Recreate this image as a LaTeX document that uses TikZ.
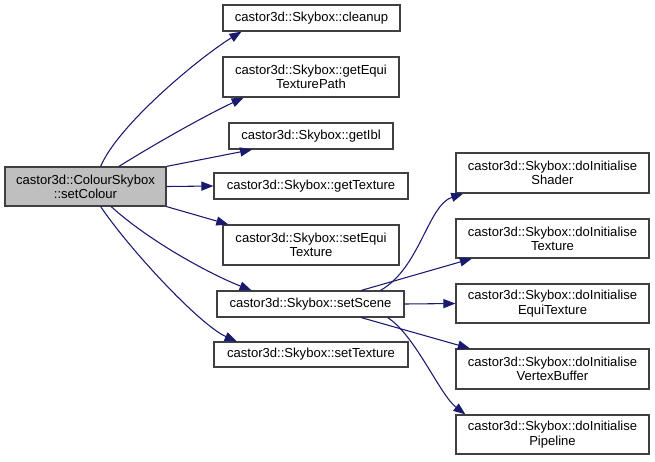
\documentclass[tikz,border=0pt]{standalone}
\usepackage{fontspec}
\setmainfont{Liberation Sans}
\usetikzlibrary{arrows.meta}
\definecolor{edgeblue}{HTML}{191970}
\definecolor{rootgray}{HTML}{BFBFBF}

\begin{document}
\begin{tikzpicture}[x=0.75pt,y=-0.75pt,
  fn/.style={draw=black!75,line width=0.9pt,fill=white,align=center,inner sep=0pt,font=\fontsize{9.8}{10.7}\selectfont},
  call/.style={draw=edgeblue,line width=0.8pt,-{Triangle[length=9pt,width=6.8pt]}}]
\useasboundingbox (0,0) rectangle (655,461);
% caller
\node[fn,fill=rootgray,minimum width=120.75pt,minimum height=29.25pt] (root) at (85.5,186.5) {castor3d::ColourSkybox\\::setColour};
% direct callees
\node[fn,minimum width=132.75pt,minimum height=19.5pt] (cleanup) at (311.5,18) {castor3d::Skybox::cleanup};
\node[fn,minimum width=132pt,minimum height=30pt] (equipath) at (311,77) {castor3d::Skybox::getEqui\\TexturePath};
\node[fn,minimum width=123pt,minimum height=19.5pt] (getibl) at (311,136) {castor3d::Skybox::getIbl};
\node[fn,minimum width=145.5pt,minimum height=19.5pt] (gettex) at (311,186) {castor3d::Skybox::getTexture};
\node[fn,minimum width=132pt,minimum height=30pt] (setequi) at (311,245) {castor3d::Skybox::setEqui\\Texture};
\node[fn,minimum width=140.25pt,minimum height=19.5pt] (setscene) at (310.5,304) {castor3d::Skybox::setScene};
\node[fn,minimum width=145.5pt,minimum height=18.75pt] (settex) at (311,354.5) {castor3d::Skybox::setTexture};
% called from setScene
\node[fn,minimum width=144.75pt,minimum height=30pt] (shader) at (552.5,173) {castor3d::Skybox::doInitialise\\Shader};
\node[fn,minimum width=144.75pt,minimum height=29.25pt] (texture) at (552.5,238.5) {castor3d::Skybox::doInitialise\\Texture};
\node[fn,minimum width=144.75pt,minimum height=29.25pt] (equitex) at (552.5,303.5) {castor3d::Skybox::doInitialise\\EquiTexture};
\node[fn,minimum width=144.75pt,minimum height=30pt] (vertex) at (552.5,369) {castor3d::Skybox::doInitialise\\VertexBuffer};
\node[fn,minimum width=144.75pt,minimum height=29.25pt] (pipeline) at (552.5,434.5) {castor3d::Skybox::doInitialise\\Pipeline};

\draw[call] (root.53) .. controls (118,125) and (200,57) .. (cleanup.191);
\draw[call] (root.31) .. controls (145,150) and (200,118) .. (equipath.197);
\draw[call] (root.north east) -- (getibl.193);
\draw[call] (root.east) -- (gettex.west);
\draw[call] (root.south east) -- (setequi.166);
\draw[call] (root.-38) .. controls (150,242) and (212,275) .. (setscene.167);
\draw[call] (root.-53) .. controls (130,250) and (200,325) .. (settex.170);

\draw[call] (setscene.11) .. controls (420,268) and (428,205) .. (shader.193);
\draw[call] (setscene.15) -- (texture.194);
\draw[call] (setscene.east) -- (equitex.west);
\draw[call] (setscene.-15) -- (vertex.166);
\draw[call] (setscene.-10) .. controls (415,335) and (440,395) .. (pipeline.167);
\end{tikzpicture}
\end{document}
